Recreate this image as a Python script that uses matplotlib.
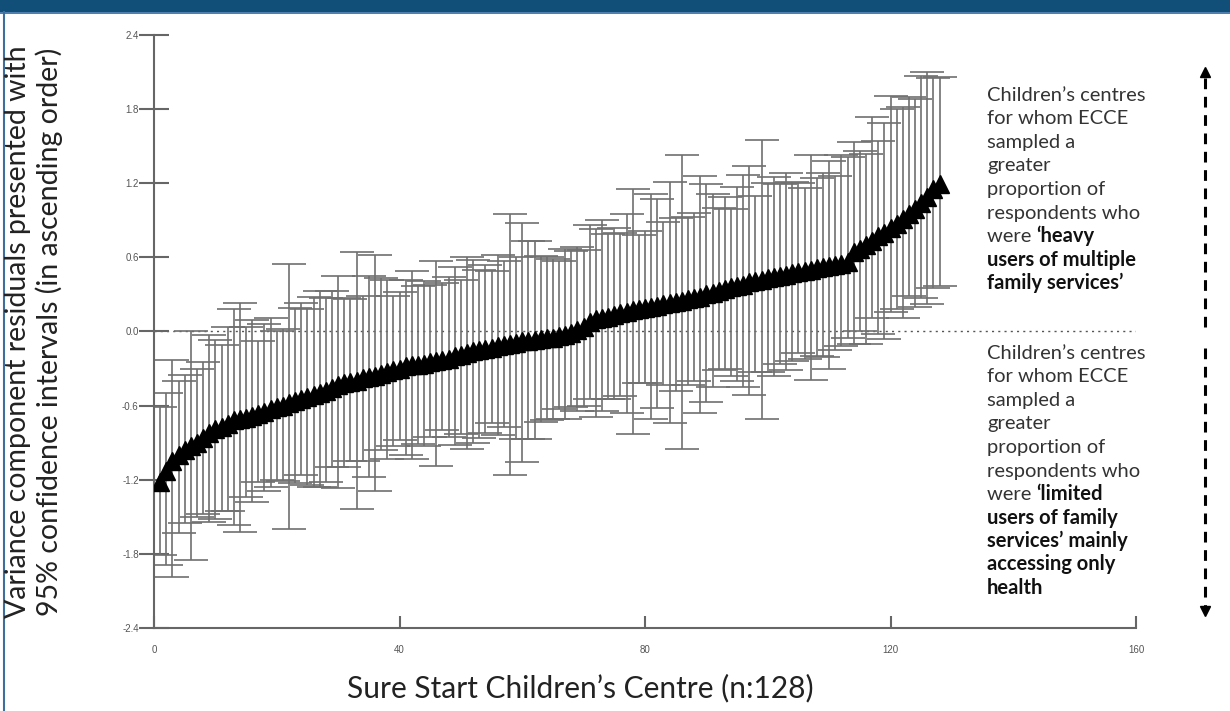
import matplotlib
matplotlib.use("Agg")
import matplotlib.pyplot as plt
from matplotlib.patches import Rectangle
from matplotlib.lines import Line2D
import numpy as np

# residuals por centro (orden ascendente) y sus IC 95%
centre = list(range(1, 129))
residual = [
    -1.22, -1.13, -1.05, -1.00, -0.96, -0.93, -0.90, -0.86, -0.82, -0.79,
    -0.77, -0.75, -0.72, -0.71, -0.70, -0.68, -0.67, -0.65, -0.63, -0.61,
    -0.60, -0.58, -0.56, -0.55, -0.53, -0.51, -0.50, -0.48, -0.46, -0.43,
    -0.42, -0.41, -0.40, -0.38, -0.37, -0.36, -0.34, -0.33, -0.31, -0.30,
    -0.28, -0.27, -0.27, -0.26, -0.25, -0.24, -0.23, -0.22, -0.20, -0.19,
    -0.17, -0.16, -0.15, -0.14, -0.13, -0.12, -0.11, -0.10, -0.09, -0.08,
    -0.08, -0.07, -0.06, -0.05, -0.05, -0.04, -0.03, -0.01, 0.01, 0.04,
    0.08, 0.10, 0.11, 0.12, 0.13, 0.15, 0.16, 0.17, 0.18, 0.19,
    0.20, 0.21, 0.22, 0.23, 0.24, 0.25, 0.26, 0.27, 0.28, 0.30,
    0.31, 0.33, 0.34, 0.36, 0.37, 0.38, 0.40, 0.41, 0.42, 0.43,
    0.44, 0.45, 0.46, 0.47, 0.48, 0.49, 0.50, 0.51, 0.52, 0.53,
    0.54, 0.55, 0.56, 0.64, 0.67, 0.70, 0.73, 0.77, 0.80, 0.84,
    0.87, 0.91, 0.95, 0.99, 1.04, 1.09, 1.15, 1.19,
]
ci_upper = [
    -0.61, -0.50, -0.23, -0.40, -0.35, 0.00, -0.30, -0.25, -0.03, -0.07,
    -0.11, 0.04, 0.18, 0.23, 0.04, 0.09, -0.08, 0.06, 0.11, 0.00,
    0.02, 0.55, 0.19, 0.23, 0.18, 0.28, 0.33, 0.27, 0.33, 0.45,
    0.27, 0.26, 0.64, 0.29, 0.45, 0.62, 0.43, 0.42, 0.29, 0.32,
    0.42, 0.49, 0.37, 0.41, 0.38, 0.57, 0.39, 0.44, 0.52, 0.42,
    0.60, 0.58, 0.50, 0.54, 0.49, 0.62, 0.57, 0.95, 0.60, 0.88,
    0.73, 0.73, 0.61, 0.60, 0.59, 0.57, 0.67, 0.65, 0.68, 0.66,
    0.86, 0.83, 0.90, 0.79, 0.84, 0.80, 0.95, 1.15, 0.78, 0.81,
    1.11, 1.07, 0.89, 1.21, 0.92, 1.43, 0.93, 0.96, 1.26, 1.19,
    1.11, 1.00, 1.09, 0.99, 1.17, 1.27, 1.34, 1.10, 1.55, 1.20,
    1.25, 1.19, 1.28, 1.21, 1.20, 1.16, 1.43, 1.24, 1.28, 1.38,
    1.26, 1.43, 1.41, 1.53, 1.46, 1.44, 1.74, 1.54, 1.69, 1.91,
    1.80, 1.82, 1.90, 1.88, 2.07, 2.10, 2.05, 2.06,
]
ci_lower = [
    -1.81, -1.89, -1.99, -1.63, -1.55, -1.85, -1.50, -1.48, -1.54, -1.52,
    -1.45, -1.45, -1.57, -1.62, -1.34, -1.38, -1.22, -1.29, -1.26, -1.20,
    -1.21, -1.60, -1.23, -1.16, -1.24, -1.26, -1.26, -1.22, -1.10, -1.27,
    -1.10, -1.05, -1.44, -1.05, -1.18, -1.29, -0.96, -1.03, -0.93, -0.88,
    -1.00, -1.03, -0.91, -0.93, -0.85, -1.09, -0.80, -0.85, -0.92, -0.83,
    -0.95, -0.90, -0.86, -0.82, -0.74, -0.84, -0.77, -1.16, -0.87, -1.06,
    -0.87, -0.87, -0.73, -0.72, -0.71, -0.63, -0.71, -0.61, -0.64, -0.60,
    -0.55, -0.69, -0.64, -0.55, -0.55, -0.52, -0.66, -0.83, -0.42, -0.42,
    -0.71, -0.62, -0.43, -0.74, -0.48, -0.95, -0.43, -0.40, -0.66, -0.57,
    -0.45, -0.31, -0.30, -0.36, -0.40, -0.45, -0.51, -0.33, -0.71, -0.33,
    -0.36, -0.26, -0.31, -0.24, -0.17, -0.22, -0.39, -0.20, -0.21, -0.30,
    -0.15, -0.12, -0.05, -0.10, 0.00, -0.10, 0.11, -0.02, -0.06, 0.16,
    0.18, 0.11, 0.29, 0.20, 0.27, 0.22, 0.35, 0.37,
]

x_ticks = [0, 40, 80, 120, 160]
y_ticks = [2.4, 1.8, 1.2, 0.6, 0.0, -0.6, -1.2, -1.8, -2.4]

W, H = 1230, 711
fig = plt.figure(figsize=(W / 100, H / 100), dpi=100)
fig.patch.set_facecolor("white")

# cabecera azul y borde izquierdo
fig.patches.append(Rectangle((0, 1 - 12 / H), 1, 12 / H, transform=fig.transFigure,
                             facecolor="#124f78", edgecolor="none", zorder=0))
fig.patches.append(Rectangle((0, 1 - 14 / H), 1, 2 / H, transform=fig.transFigure,
                             facecolor="#4f7fae", edgecolor="none", zorder=0))
fig.add_artist(Line2D([3.5 / W, 3.5 / W], [0, 1 - 12 / H], transform=fig.transFigure,
                      color="#3d6e9e", lw=1.5))

ax = fig.add_axes([154 / W, 1 - 628 / H, (1136 - 154) / W, (628 - 35) / H])

lo = np.array(residual) - np.array(ci_lower)
hi = np.array(ci_upper) - np.array(residual)
ax.errorbar(centre, residual, yerr=[lo, hi], fmt="none", ecolor="#707070",
            elinewidth=1.2, capsize=12, capthick=1.2, zorder=2)
ax.plot(centre, residual, linestyle="none", marker="^", markersize=13,
        color="black", zorder=3)

ax.axhline(0, color="#555555", lw=1, linestyle=(0, (1.5, 3)), zorder=1)

ax.set_xlim(0, 160)
ax.set_ylim(-2.4, 2.4)
ax.set_xticks(x_ticks)
ax.set_yticks(y_ticks)
ax.set_yticklabels([f"{v:.1f}" for v in y_ticks])
for s in ["top", "right"]:
    ax.spines[s].set_visible(False)
for s in ["left", "bottom"]:
    ax.spines[s].set_color("#666666")
    ax.spines[s].set_linewidth(1.5)
ax.tick_params(axis="y", direction="inout", length=22, width=1.5, color="#666666",
               labelsize=7, labelcolor="#555555", pad=0)
ax.tick_params(axis="x", direction="in", length=9, width=1.5, color="#666666",
               labelsize=7, labelcolor="#555555", pad=12)
for lab in ax.get_xticklabels() + ax.get_yticklabels():
    lab.set_family("Liberation Sans")

fig.text(34 / W, 1 - 332 / H,
         "Variance component residuals presented with\n95% confidence intervals (in ascending order)",
         rotation=90, ha="center", va="center", fontsize=20.5, family="Lato",
         color="#222222", linespacing=1.15)
fig.text(580 / W, 1 - 688 / H, "Sure Start Children\u2019s Centre (n:128)",
         ha="center", va="center", fontsize=21.5, family="Lato", color="#222222")

renderer = fig.canvas.get_renderer()


# textos explicativos a la derecha (parte normal + parte en negrita)
def bloque(y0, lineas):
    paso = 23.5
    fs = 14.5
    for i, (normal, negrita) in enumerate(lineas):
        y = 1 - (y0 + i * paso) / H
        x = 987 / W
        if normal:
            t = fig.text(x, y, normal, ha="left", va="baseline", fontsize=fs,
                         family="Lato", color="#333333")
            x = t.get_window_extent(renderer).x1 / W
        if negrita:
            fig.text(x, y, negrita, ha="left", va="baseline", fontsize=fs,
                     family="Lato", weight="bold", color="#111111")


bloque(101, [("Children\u2019s centres", ""), ("for whom ECCE", ""), ("sampled a", ""),
             ("greater", ""), ("proportion of", ""), ("respondents who", ""),
             ("were ", "\u2018heavy"), ("", "users of multiple"), ("", "family services\u2019")])
bloque(359, [("Children\u2019s centres", ""), ("for whom ECCE", ""), ("sampled a", ""),
             ("greater", ""), ("proportion of", ""), ("respondents who", ""),
             ("were ", "\u2018limited"), ("", "users of family"),
             ("", "services\u2019 mainly"), ("", "accessing only"), ("", "health")])

# flecha discontinua doble
xa = 1205 / W
fig.add_artist(Line2D([xa, xa], [1 - 78 / H, 1 - 327 / H], transform=fig.transFigure,
                      color="black", lw=2.2, linestyle=(0, (3.5, 2.5))))
fig.add_artist(Line2D([xa, xa], [1 - 348 / H, 1 - 606 / H], transform=fig.transFigure,
                      color="black", lw=2.2, linestyle=(0, (3.5, 2.5))))
fig.add_artist(Line2D([xa], [1 - 72 / H], transform=fig.transFigure, marker="^",
                      markersize=7, color="black", linestyle="none"))
fig.add_artist(Line2D([xa], [1 - 611 / H], transform=fig.transFigure, marker="v",
                      markersize=7, color="black", linestyle="none"))

fig.savefig("out.png", dpi=100)
